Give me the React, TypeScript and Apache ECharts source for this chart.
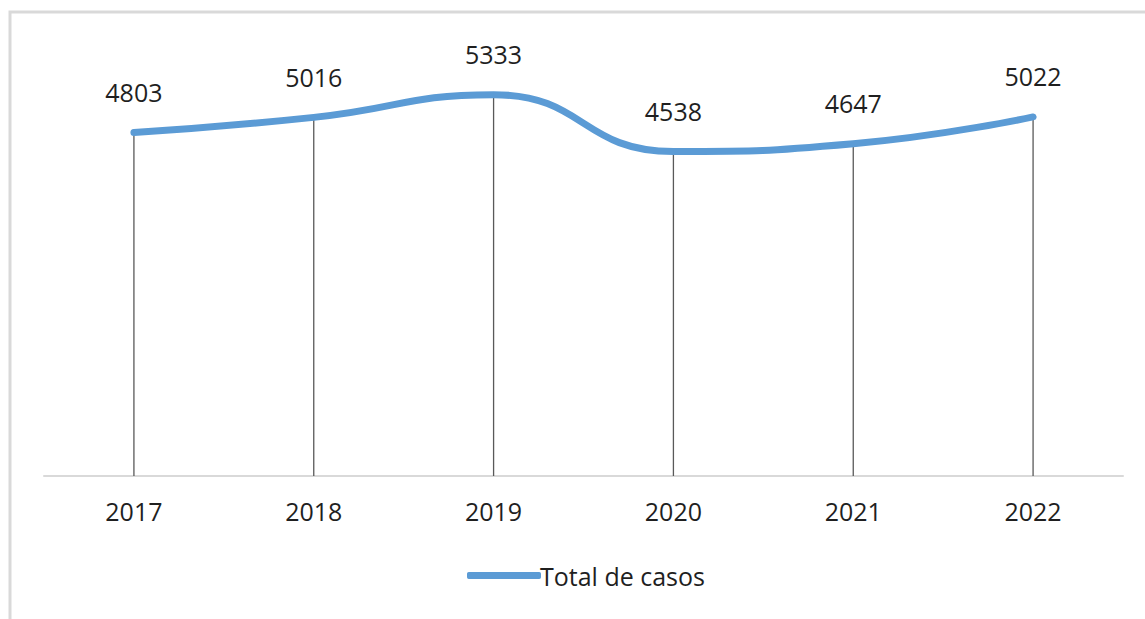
import React, { useEffect, useRef } from "react";
import * as echarts from "echarts";

const years = ["2017", "2018", "2019", "2020", "2021", "2022"];
const totalCasos = [4803, 5016, 5333, 4538, 4647, 5022];
const seriesName = "Total de casos";

export default function App() {
  const ref = useRef<HTMLDivElement>(null);
  useEffect(() => {
    if (!ref.current) return;
    const chart = echarts.init(ref.current, null, { renderer: "svg" });
    const font = "'Open Sans', 'Liberation Sans', sans-serif";
    chart.setOption({
      animation: false,
      backgroundColor: "#ffffff",
      graphic: [
        {
          type: "rect",
          shape: { x: 10, y: 12, width: 1200, height: 700 },
          style: { fill: "none", stroke: "#d9d9d9", lineWidth: 3 },
          silent: true,
        },
      ],
      grid: { left: 44, right: 22, top: 47, bottom: 143 },
      legend: {
        data: [seriesName],
        left: 462,
        top: 558,
        icon: "roundRect",
        itemWidth: 74,
        itemHeight: 7,
        itemGap: 10,
        itemStyle: { color: "#5b9bd5" },
        textStyle: { fontFamily: font, fontSize: 25, color: "#1f1f1f", padding: [0, 0, 0, -6] },
      },
      xAxis: {
        type: "category",
        data: years,
        boundaryGap: true,
        axisLine: { show: true, lineStyle: { color: "#d9d9d9", width: 2 } },
        axisTick: { show: false },
        axisLabel: { fontFamily: font, fontSize: 25, color: "#1f1f1f", margin: 22 },
      },
      yAxis: {
        type: "value",
        min: 0,
        max: 6000,
        show: false,
        splitLine: { show: false },
      },
      series: [
        {
          name: "drop",
          type: "bar",
          data: totalCasos,
          barWidth: 1.3,
          itemStyle: { color: "#595959" },
          z: 1,
          silent: true,
          label: {
            show: true,
            position: "top",
            distance: 28,
            fontFamily: font,
            fontSize: 25,
            color: "#1f1f1f",
          },
        },
        {
          name: seriesName,
          type: "line",
          data: totalCasos,
          smooth: 0.5,
          symbol: "none",
          lineStyle: { color: "#5b9bd5", width: 7, cap: "round" },
          itemStyle: { color: "#5b9bd5" },
          z: 3,
        },
      ],
    });
    return () => chart.dispose();
  }, []);
  return (
    <div
      ref={ref}
      style={{ position: "fixed", left: 0, top: 0, width: 1145, height: 619 }}
    />
  );
}
